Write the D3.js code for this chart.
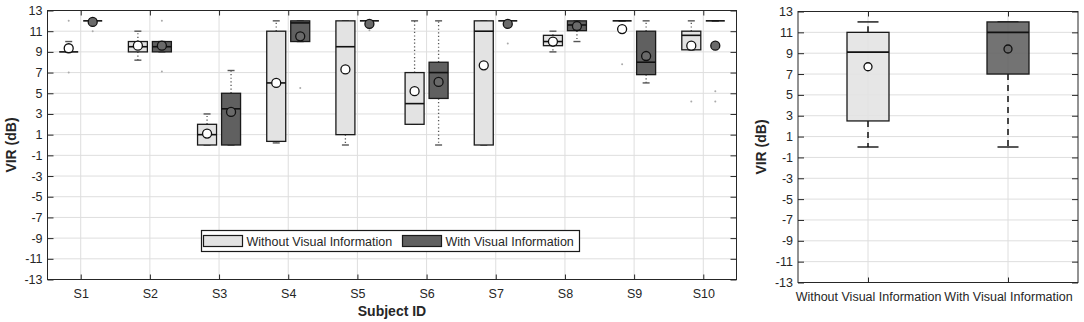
<!DOCTYPE html>
<html>
<head>
<meta charset="utf-8">
<script src="https://cdn.jsdelivr.net/npm/d3@7"></script>
<style>
	body { margin: 0; background: #fff; }
	text { font-family: "Liberation Sans", Arial, sans-serif; fill: #262626; }
</style>
</head>
<body>
<div id="chart"></div>
<script>
// Data
const subjects = ["S1", "S2", "S3", "S4", "S5", "S6", "S7", "S8", "S9", "S10"];
const conditions = ["Without Visual Information", "With Visual Information"];
const yTicks = [-13, -11, -9, -7, -5, -3, -1, 1, 3, 5, 7, 9, 11, 13];

// without visual information, one value per subject
const withoutQ1       = [9,    9,   0,   0.35, 1,   2,   0,   9.6,  12,   9.2];
const withoutMedian   = [9,    9.5, 1,   6,    9.5, 4,   11,  10,   12,   10.6];
const withoutQ3       = [9,    10,  2,   11,   12,  7,   12,  10.6, 12,   11];
const withoutLow      = [9,    8.2, 0,   0.2,  0,   2,   0,   9,    12,   9.2];
const withoutHigh     = [10,   11,  3,   12,   12,  12,  12,  11,   12,   12];
const withoutMean     = [9.35, 9.6, 1.1, 6,    7.3, 5.2, 7.7, 10,   11.2, 9.6];
const withoutOutliers = [[12, 7], [], [], [], [], [], [], [], [7.8], [4.2]];

// with visual information
const withQ1       = [12,   9,   0,   10,   12,   4.5, 12,   11.05, 6.8, 12];
const withMedian   = [12,   9.5, 3.5, 11.8, 12,   7,   12,   11.6,  8,   12];
const withQ3       = [12,   10,  5,   12,   12,   8,   12,   12,    11,  12];
const withLow      = [12,   9,   0,   10,   12,   0,   12,   10,    6,   12];
const withHigh     = [12,   10,  7.2, 12,   12,   12,  12,   12,    12,  12];
const withMean     = [11.9, 9.6, 3.2, 10.5, 11.7, 6.1, 11.7, 11.5,  8.6, 9.6];
const withOutliers = [[11], [12, 7.1], [], [5.5], [11.1], [], [9.8], [], [], [5.2, 4.2]];

// all subjects pooled: [without, with]
const pooledQ1     = [2.5, 7];
const pooledMedian = [9.1, 11];
const pooledQ3     = [11, 12];
const pooledLow    = [0, 0];
const pooledHigh   = [12, 12];
const pooledMean   = [7.7, 9.4];

const fills = ["#e3e3e3", "#606060"];
const meanFills = ["#ffffff", "#6a6a6a"];

const width = 1084, height = 322;
const svg = d3.select("#chart").append("svg")
	.attr("width", width).attr("height", height);
svg.append("rect").attr("width", width).attr("height", height).attr("fill", "#fff");

function stats(q1, med, q3, lo, hi, mean, out) {
	return q1.map((_, i) => ({
		q1: q1[i], med: med[i], q3: q3[i], lo: lo[i], hi: hi[i], mean: mean[i], out: out ? out[i] : []
	}));
}

// grid, frame and ticks for one panel
function frame(box, x, y, xTicks, xFormat) {
	const g = svg.append("g");
	g.append("g").selectAll("line").data(yTicks.slice(1, -1)).join("line")
		.attr("x1", box.x0).attr("x2", box.x1)
		.attr("y1", (d) => y(d)).attr("y2", (d) => y(d))
		.attr("stroke", "#dedede").attr("stroke-width", 1);
	g.append("g").selectAll("line").data(xTicks).join("line")
		.attr("x1", (d) => x(d)).attr("x2", (d) => x(d))
		.attr("y1", box.y0).attr("y2", box.y1)
		.attr("stroke", "#dedede").attr("stroke-width", 1);

	const ax = (sel) => sel.call((s) => s.select(".domain").remove())
		.call((s) => s.selectAll("line").attr("stroke", "#262626"))
		.call((s) => s.selectAll("text").attr("font-size", 12.5).attr("fill", "#262626"));

	// plain hyphen for negatives, like the original
	svg.append("g").attr("transform", `translate(${box.x0},0)`)
		.call(d3.axisLeft(y).tickValues(yTicks).tickSize(-6).tickPadding(5).tickFormat((d) => String(d)))
		.call(ax);
	svg.append("g").attr("transform", `translate(${box.x1},0)`)
		.call(d3.axisRight(y).tickValues(yTicks).tickSize(-6).tickFormat("")).call(ax);
	svg.append("g").attr("transform", `translate(0,${box.y1})`)
		.call(d3.axisBottom(x).tickValues(xTicks).tickFormat(xFormat).tickSize(-5).tickPadding(10)).call(ax);
	svg.append("g").attr("transform", `translate(0,${box.y0})`)
		.call(d3.axisTop(x).tickValues(xTicks).tickSize(-5).tickFormat("")).call(ax);
	return g;
}

function border(box) {
	svg.append("rect")
		.attr("x", box.x0).attr("y", box.y0)
		.attr("width", box.x1 - box.x0).attr("height", box.y1 - box.y0)
		.attr("fill", "none").attr("stroke", "#262626").attr("stroke-width", 1);
}

// one box with whiskers, caps, mean marker and outliers
function drawBox(g, cx, y, d, k, o) {
	const half = o.boxWidth / 2;
	// whiskers
	[[d.q3, d.hi], [d.q1, d.lo]].forEach(([a, b]) => {
		if (a !== b) g.append("line")
			.attr("x1", cx).attr("x2", cx).attr("y1", y(a)).attr("y2", y(b))
			.attr("stroke", o.whiskerColor).attr("stroke-width", o.whiskerWidth)
			.attr("stroke-dasharray", o.dash);
	});
	[d.lo, d.hi].forEach((v) => g.append("line")
		.attr("x1", cx - o.capWidth / 2).attr("x2", cx + o.capWidth / 2)
		.attr("y1", y(v)).attr("y2", y(v))
		.attr("stroke", o.capColor).attr("stroke-width", 1.4));
	g.append("rect")
		.attr("x", cx - half).attr("width", o.boxWidth)
		.attr("y", y(d.q3)).attr("height", Math.max(y(d.q1) - y(d.q3), 0))
		.attr("fill", fills[k]).attr("fill-opacity", o.opacity)
		.attr("stroke", "#1a1a1a").attr("stroke-width", 1.3);
	g.append("line")
		.attr("x1", cx - half).attr("x2", cx + half)
		.attr("y1", y(d.med)).attr("y2", y(d.med))
		.attr("stroke", "#111").attr("stroke-width", 1.6);
	g.selectAll(null).data(d.out).join("circle")
		.attr("cx", cx).attr("cy", (v) => y(v)).attr("r", 1)
		.attr("fill", "#aaa");
	g.append("circle")
		.attr("cx", cx).attr("cy", y(d.mean)).attr("r", o.meanR)
		.attr("fill", meanFills[k]).attr("stroke", "#111").attr("stroke-width", 1.3);
}

// Left panel: per subject
const left = { x0: 47.5, x1: 736.5, y0: 10.5, y1: 279.5 };
const xL = d3.scaleLinear([0.52, 10.48], [left.x0, left.x1]);
const yL = d3.scaleLinear([-13, 13], [left.y1, left.y0]);
const idx = subjects.map((_, i) => i + 1);
const gL = frame(left, xL, yL, idx, (i) => subjects[i - 1]);

const perSubject = [
	stats(withoutQ1, withoutMedian, withoutQ3, withoutLow, withoutHigh, withoutMean, withoutOutliers),
	stats(withQ1, withMedian, withQ3, withLow, withHigh, withMean, withOutliers)
];
const leftOpts = {
	boxWidth: 19, capWidth: 7, meanR: 4.5, dash: "1.2,2.4", whiskerColor: "#555",
	whiskerWidth: 1.3, capColor: "#555", opacity: 1
};
perSubject.forEach((rows, k) => rows.forEach((d, i) => {
	drawBox(gL, xL(i + 1) + (k === 0 ? -12 : 12), yL, d, k, leftOpts);
}));
border(left);

// legend
const lg = svg.append("g").attr("transform", "translate(201.5,230.5)");
lg.append("rect").attr("width", 378).attr("height", 21)
	.attr("fill", "#fff").attr("stroke", "#1a1a1a").attr("stroke-width", 1.2);
const legendX = [2, 201];
conditions.forEach((c, k) => {
	lg.append("rect").attr("x", legendX[k]).attr("y", 5).attr("width", 39).attr("height", 11)
		.attr("fill", fills[k]).attr("stroke", "#1a1a1a").attr("stroke-width", 1.2);
	lg.append("text").attr("x", legendX[k] + 43).attr("y", 15.5)
		.attr("font-size", 12.5).attr("fill", "#111").text(c);
});

svg.append("text").attr("x", (left.x0 + left.x1) / 2).attr("y", 316)
	.attr("text-anchor", "middle").attr("font-size", 14).attr("font-weight", "bold")
	.attr("fill", "#111").text("Subject ID");
svg.append("text").attr("transform", `translate(16,${(left.y0 + left.y1) / 2}) rotate(-90)`)
	.attr("text-anchor", "middle").attr("font-size", 14).attr("font-weight", "bold")
	.attr("fill", "#111").text("VIR (dB)");

// Right panel: pooled
const right = { x0: 798, x1: 1078, y0: 11.5, y1: 282.5 };
const xR = d3.scaleLinear([0.5, 2.5], [right.x0, right.x1]);
const yR = d3.scaleLinear([-13, 13], [right.y1, right.y0]);
const gR = frame(right, xR, yR, [1, 2], (i) => conditions[i - 1]);
const pooled = stats(pooledQ1, pooledMedian, pooledQ3, pooledLow, pooledHigh, pooledMean, null);
const rightOpts = {
	boxWidth: 42, capWidth: 21, meanR: 4, dash: "6,5", whiskerColor: "#111",
	whiskerWidth: 1.5, capColor: "#111", opacity: 0.88
};
pooled.forEach((d, k) => drawBox(gR, xR(k + 1), yR, d, k, rightOpts));
border(right);

svg.append("text").attr("transform", `translate(766,${(right.y0 + right.y1) / 2}) rotate(-90)`)
	.attr("text-anchor", "middle").attr("font-size", 14).attr("font-weight", "bold")
	.attr("fill", "#111").text("VIR (dB)");
</script>
</body>
</html>
